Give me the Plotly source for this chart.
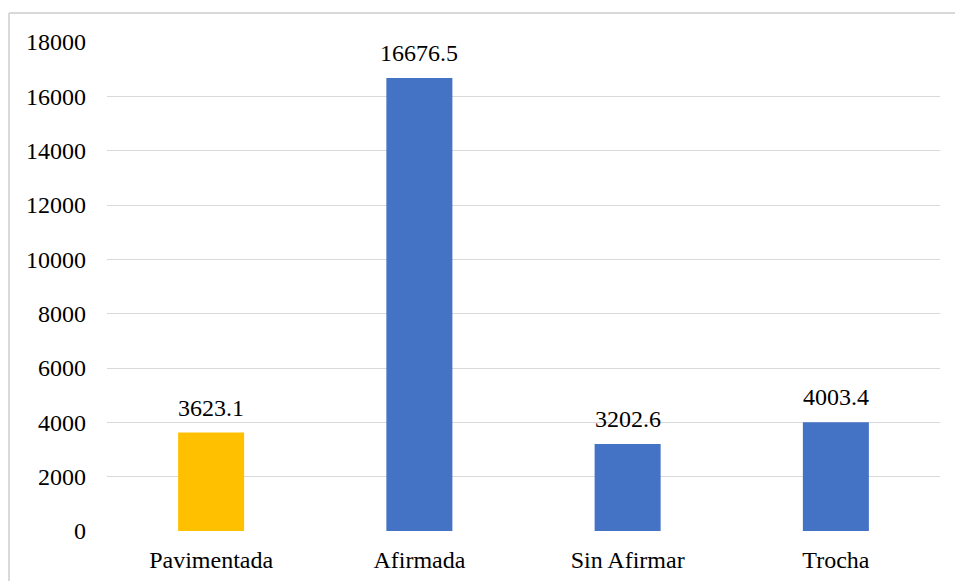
import plotly.graph_objects as go

categories = ["Pavimentada", "Afirmada", "Sin Afirmar", "Trocha"]
values = [3623.1, 16676.5, 3202.6, 4003.4]
labels = ["3623.1", "16676.5", "3202.6", "4003.4"]
colors = ["#FFC000", "#4472C4", "#4472C4", "#4472C4"]
y_ticks = [0, 2000, 4000, 6000, 8000, 10000, 12000, 14000, 16000, 18000]

FONT = "Liberation Serif"
FS = 24

W, H = 955, 581
ml, mr, mt, mb = 107, 15, 42, 50
pw = W - ml - mr
ph = H - mt - mb

def px_x(x):
    return (x - ml) / pw

def px_y(y):
    return (H - mb - y) / ph

fig = go.Figure(go.Bar(
    x=categories, y=values, marker=dict(color=colors, line=dict(width=0)),
    width=0.317, hoverinfo="x+y",
))

for c, v, t in zip(categories, values, labels):
    fig.add_annotation(x=c, y=v, text=t, showarrow=False, yanchor="bottom",
                       yshift=10, font=dict(family=FONT, size=FS, color="#000000"))

fig.update_layout(
    width=W, height=H,
    margin=dict(l=ml, r=mr, t=mt, b=mb),
    paper_bgcolor="white", plot_bgcolor="white",
    font=dict(family=FONT, size=FS, color="#000000"),
    showlegend=False,
    xaxis=dict(showgrid=False, showline=False, zeroline=False, ticks="",
               automargin=False,
               ticklabelstandoff=12, tickfont=dict(family=FONT, size=FS)),
    yaxis=dict(range=[0, 18000], tickvals=y_ticks,
               ticktext=[str(v) for v in y_ticks], showgrid=True,
               automargin=False,
               gridcolor="#D9D9D9", gridwidth=1.3, zeroline=False,
               showline=False, ticks="", ticklabelstandoff=20,
               tickfont=dict(family=FONT, size=FS)),
    shapes=[
        dict(type="line", xref="paper", yref="paper",
             x0=px_x(9), x1=px_x(960), y0=px_y(13), y1=px_y(13),
             line=dict(color="#D9D9D9", width=2)),
        dict(type="line", xref="paper", yref="paper",
             x0=px_x(9), x1=px_x(9), y0=px_y(13), y1=px_y(590),
             line=dict(color="#D9D9D9", width=2)),
    ],
)

fig.write_html("out.html")
